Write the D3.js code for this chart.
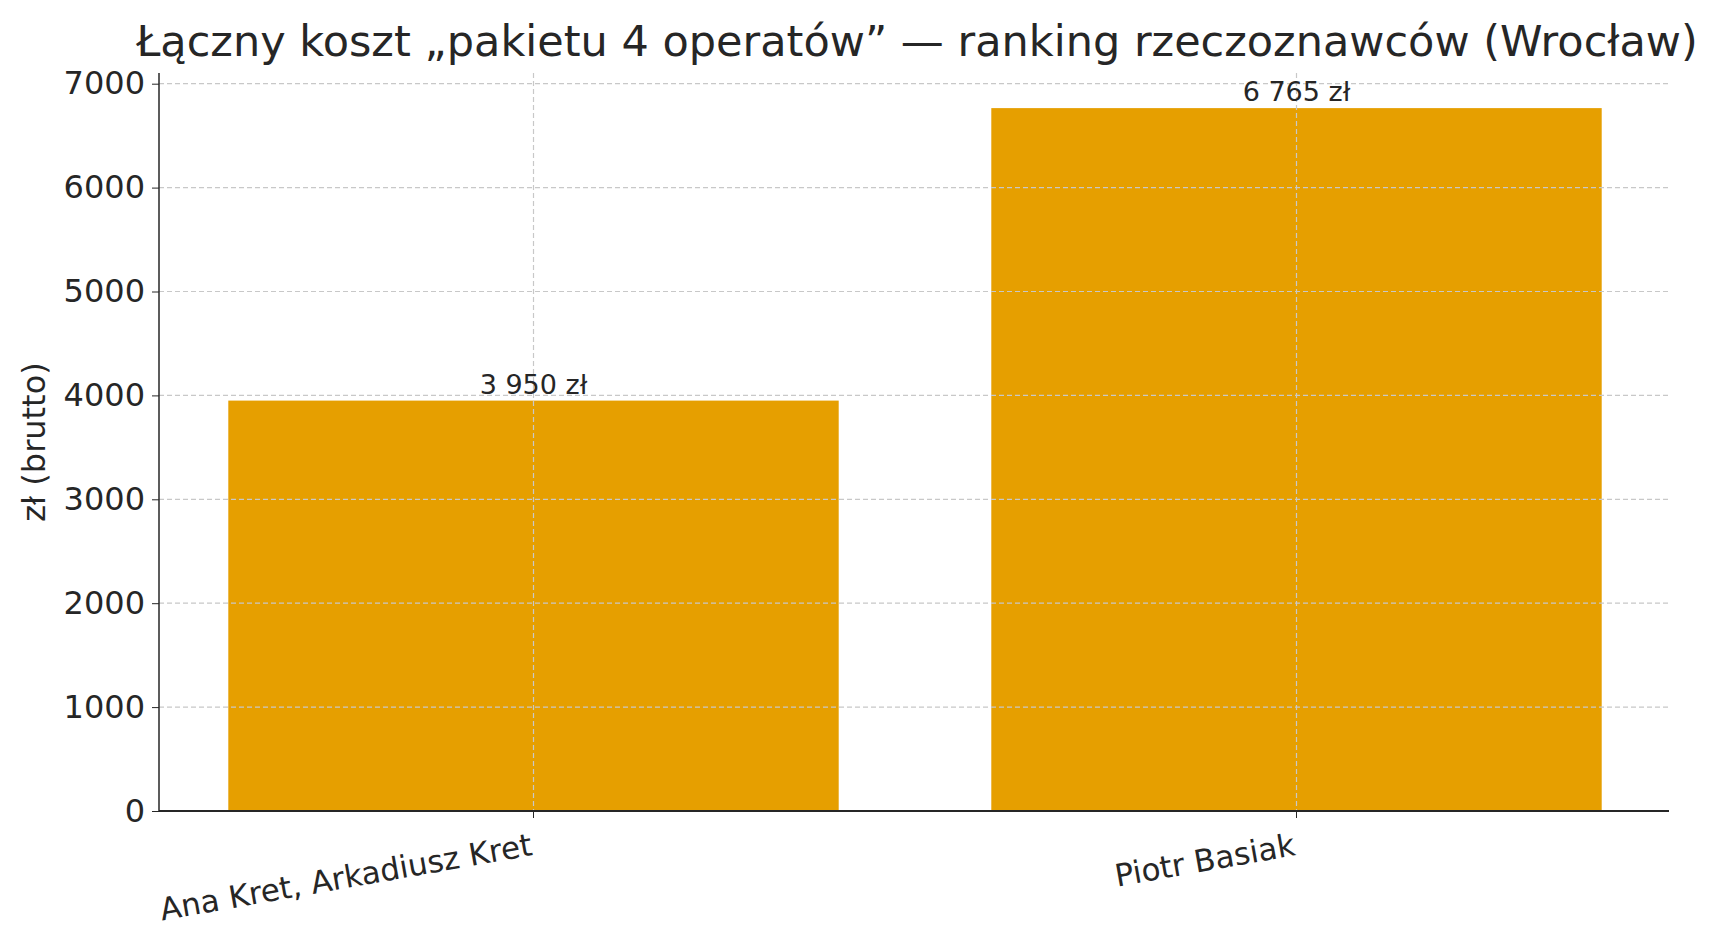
<!DOCTYPE html>
<html><head><meta charset="utf-8">
<script src="https://cdn.jsdelivr.net/npm/d3@7"></script>
<style>body{margin:0;background:#fff}text{font-family:"DejaVu Sans",sans-serif;fill:#262626}</style>
</head><body><svg id="c" width="1736" height="940"></svg>
<script>
const categories = ["Ana Kret, Arkadiusz Kret", "Piotr Basiak"];
const values = [3950, 6765];
const valueLabels = ["3 950 zł", "6 765 zł"];
const yTicks = [0,1000,2000,3000,4000,5000,6000,7000];
const title = "Łączny koszt „pakietu 4 operatów” — ranking rzeczoznawców (Wrocław)";
const yLabel = "zł (brutto)";

const svg = d3.select("#c");
const L=159, R=1669, T=73, B=811;
const x = d3.scaleBand().domain(categories).range([152,1678]).paddingInner(0.2).paddingOuter(0.1);
const y = d3.scaleLinear().domain([0,7103]).range([B,T]);

svg.selectAll(".bar").data(values).join("rect")
 .attr("x",(d,i)=>x(categories[i])).attr("width",x.bandwidth())
 .attr("y",d=>y(d)).attr("height",d=>B-y(d)).attr("fill","#E69F00");

const g = svg.append("g");
g.selectAll(".hg").data(yTicks).join("line").attr("x1",L).attr("x2",R)
 .attr("y1",d=>y(d)).attr("y2",d=>y(d)).attr("stroke","#c8c8c8").attr("stroke-dasharray","5,3").attr("stroke-width",1.2);
g.selectAll(".vg").data(categories).join("line").attr("x1",d=>x(d)+x.bandwidth()/2).attr("x2",d=>x(d)+x.bandwidth()/2)
 .attr("y1",T).attr("y2",B).attr("stroke","#c8c8c8").attr("stroke-dasharray","5,3").attr("stroke-width",1.2);

svg.selectAll(".vl").data(values).join("text")
 .attr("x",(d,i)=>x(categories[i])+x.bandwidth()/2).attr("y",d=>y(d)-7)
 .attr("text-anchor","middle").attr("font-size",27).text((d,i)=>valueLabels[i]);

const ya = svg.append("g").attr("transform",`translate(${L},0)`)
 .call(d3.axisLeft(y).tickValues(yTicks).tickSize(7).tickPadding(7).tickFormat(d3.format("d")));
ya.select(".domain").remove();
ya.selectAll("text").attr("font-size",32);
svg.append("line").attr("x1",L).attr("x2",L).attr("y1",T).attr("y2",B).attr("stroke","#262626").attr("stroke-width",1.5);

const xa = svg.append("g").attr("transform",`translate(0,${B})`)
 .call(d3.axisBottom(x).tickSize(7).tickSizeOuter(0));
xa.select(".domain").remove();
xa.selectAll("text").attr("font-size",31).attr("text-anchor","end")
 .attr("y",0).attr("dy",0)
 .attr("transform","translate(0,44) rotate(-10)");
svg.append("line").attr("x1",L).attr("x2",R).attr("y1",B).attr("y2",B).attr("stroke","#262626").attr("stroke-width",2);
svg.selectAll(".tick line").attr("stroke","#262626");
svg.selectAll(".tick text").style("fill","#262626").attr("font-family","DejaVu Sans");

svg.append("text").attr("x",917).attr("y",56).attr("text-anchor","middle").attr("font-size",43).text(title);
svg.append("text").attr("transform",`translate(45,${(T+B)/2}) rotate(-90)`).attr("text-anchor","middle").attr("font-size",32).text(yLabel);
</script></body></html>
